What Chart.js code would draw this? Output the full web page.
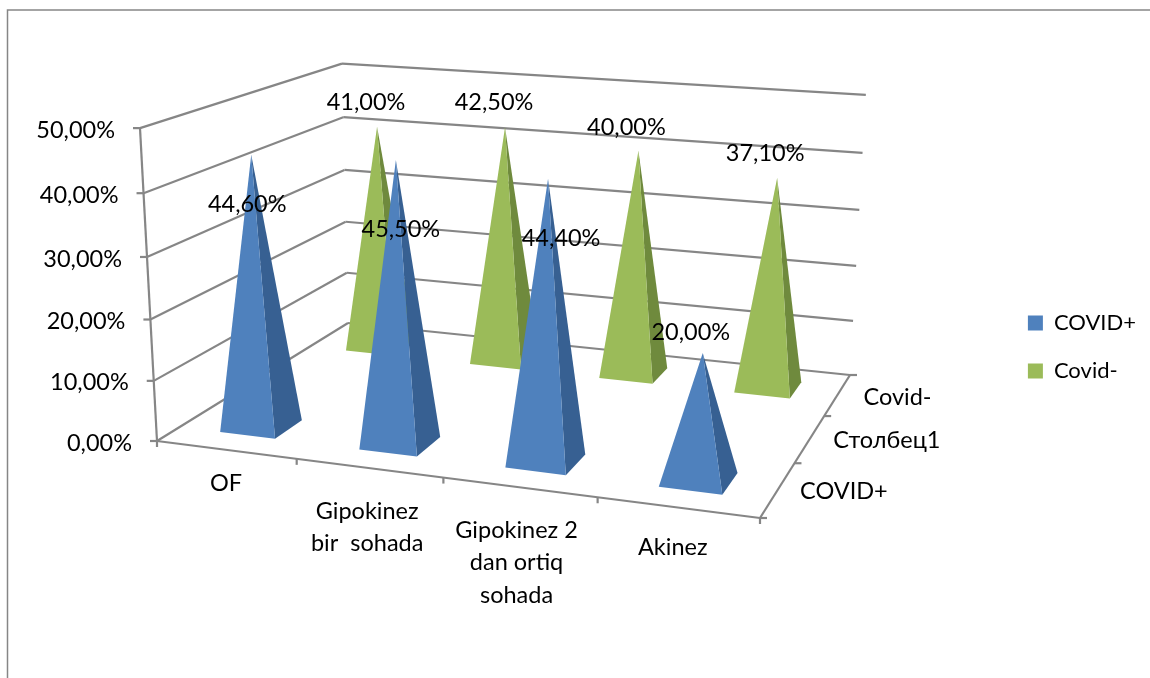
<!DOCTYPE html>
<html>
<head>
<meta charset="utf-8">
<title>COVID pyramids</title>
<script src="https://cdn.jsdelivr.net/npm/chart.js@4"></script>
<style>
  html, body { margin: 0; padding: 0; background: #fff; }
  canvas { display: block; }
</style>
</head>
<body>
<canvas id="chart" width="1150" height="678"></canvas>
<script>
const categories = ['OF', ['Gipokinez', 'bir  sohada'], ['Gipokinez 2', 'dan ortiq', 'sohada'], 'Akinez'];
const depthLabels = ['COVID+', 'Столбец1', 'Covid-'];
const covidPlus = [44.6, 45.5, 44.4, 20];
const covidMinus = [41, 42.5, 40, 37.1];
const yTicks = { min: 0, max: 50, step: 10 };

const AXIS_COLOR = '#868686';
const FONT = 'Lato, sans-serif';
const FONT_SIZE = 23.5;

// floor of the box in canvas pixels, then the vertical vanishing point and its weight
const floor = { fl: [157, 441], fr: [760, 518], br: [850, 375], bl: [348, 323] };
const vanish = { x: 495, y: 6660, weight: -0.0479 };

// homography from the unit square onto the floor quad
function floorMatrix({ fl, fr, br, bl }) {
    const dx1 = fr[0] - br[0], dx2 = bl[0] - br[0], sx = fl[0] - fr[0] + br[0] - bl[0];
    const dy1 = fr[1] - br[1], dy2 = bl[1] - br[1], sy = fl[1] - fr[1] + br[1] - bl[1];
    const den = dx1 * dy2 - dx2 * dy1;
    const g = (sx * dy2 - dx2 * sy) / den;
    const h = (dx1 * sy - sx * dy1) / den;
    return {
        a: fr[0] - fl[0] + g * fr[0], b: bl[0] - fl[0] + h * bl[0], c: fl[0],
        d: fr[1] - fl[1] + g * fr[1], e: bl[1] - fl[1] + h * bl[1], f: fl[1],
        g, h
    };
}
const M = floorMatrix(floor);

// u along the categories, v into the depth, w up: all 0..1
function project(u, v, w) {
    const k = w * vanish.weight;
    const W = M.g * u + M.h * v + 1 + k;
    return [
        (M.a * u + M.b * v + M.c + k * vanish.x) / W,
        (M.d * u + M.e * v + M.f + k * vanish.y) / W
    ];
}

function decimalOf(scale, value) {
    return scale.getDecimalForPixel(scale.getPixelForValue(value));
}

function polygon(ctx, points, fill) {
    ctx.beginPath();
    points.forEach((p, i) => i ? ctx.lineTo(p[0], p[1]) : ctx.moveTo(p[0], p[1]));
    ctx.closePath();
    ctx.fillStyle = fill;
    ctx.fill();
}

const BASE_U = 0.05;
const BASE_V = 0.067;

class PyramidController extends Chart.BarController {
    static id = 'pyramid';

    draw() {
        const ctx = this.chart.ctx;
        const meta = this.getMeta();
        const ds = this.getDataset();
        const depthScale = this.chart.scales.depth;
        const v = decimalOf(depthScale, depthLabels.indexOf(ds.label));
        ds.data.forEach((value, i) => {
            const u = decimalOf(meta.iScale, i);
            const w = decimalOf(meta.vScale, value);
            const tip = project(u, v, w);
            const frontLeft = project(u - BASE_U, v - BASE_V, 0);
            const frontRight = project(u + BASE_U, v - BASE_V, 0);
            const backRight = project(u + BASE_U, v + BASE_V, 0);
            polygon(ctx, [frontRight, backRight, tip], ds.sideColor);
            polygon(ctx, [frontLeft, frontRight, tip], ds.backgroundColor);
        });
    }
}
Chart.register(PyramidController);

const fmt = v => v.toFixed(2).replace('.', ',') + '%';

function line(ctx, a, b) {
    ctx.beginPath();
    ctx.moveTo(a[0], a[1]);
    ctx.lineTo(b[0], b[1]);
    ctx.stroke();
}

function textLines(ctx, lines, x, y, lineHeight) {
    [].concat(lines).forEach((t, i) => ctx.fillText(t, x, y + i * lineHeight));
}

// value label nudges from each pyramid tip, per dataset
const labelNudge = [
    [[-4, 50], [5, 69], [13, 60], [-12, -21]],
    [[-11, -24], [-11, -25], [-12, -23], [-12, -24]]
];
const categoryNudge = [[0, 34], [-2, 43], [-3, 43], [-5, 40]];
const depthNudge = [[66, 2], [77, 2], [60, 3]];

const box3d = {
    id: 'box3d',
    beforeDraw(chart) {
        const ctx = chart.ctx;
        ctx.save();
        ctx.strokeStyle = AXIS_COLOR;
        ctx.lineWidth = 1.5;
        ctx.beginPath();
        ctx.moveTo(7.5, 678);
        ctx.lineTo(7.5, 10);
        ctx.lineTo(1150, 10);
        ctx.stroke();
        ctx.restore();
    },
    beforeDatasetsDraw(chart) {
        const ctx = chart.ctx;
        const { x, y, depth } = chart.scales;
        ctx.save();
        ctx.strokeStyle = AXIS_COLOR;
        ctx.lineWidth = 2.2;
        y.ticks.forEach(t => {
            const w = decimalOf(y, t.value);
            const front = project(0, 0, w);
            const corner = project(0, 1, w);
            const right = project(1, 1, w);
            line(ctx, [front[0] - 7, front[1]], front);
            line(ctx, front, corner);
            line(ctx, corner, right);
        });
        line(ctx, project(0, 0, 0), project(0, 0, 1));
        line(ctx, project(0, 0, 0), project(1, 0, 0));
        line(ctx, project(1, 0, 0), project(1, 1, 0));
        for (let i = 0; i <= x.getLabels().length; i++) {
            const p = project(i / x.getLabels().length, 0, 0);
            line(ctx, p, [p[0], p[1] + 6]);
        }
        for (let i = 0; i <= depth.getLabels().length; i++) {
            const p = project(1, i / depth.getLabels().length, 0);
            line(ctx, p, [p[0] + 7, p[1]]);
        }
        ctx.restore();
    },
    afterDatasetsDraw(chart) {
        const ctx = chart.ctx;
        const { x, y, depth } = chart.scales;
        ctx.save();
        ctx.fillStyle = '#000';
        ctx.font = FONT_SIZE + 'px ' + FONT;
        ctx.textBaseline = 'middle';

        ctx.textAlign = 'right';
        y.ticks.forEach(t => {
            const p = project(0, 0, decimalOf(y, t.value));
            ctx.fillText(fmt(t.value), p[0] - 25, p[1] + 2);
        });

        ctx.textAlign = 'center';
        x.getLabels().forEach((label, i) => {
            const p = project(decimalOf(x, i), 0, 0);
            textLines(ctx, label, p[0] + categoryNudge[i][0], p[1] + categoryNudge[i][1], 32.5);
        });
        depth.getLabels().forEach((label, i) => {
            const p = project(1, decimalOf(depth, i), 0);
            ctx.fillText(label, p[0] + depthNudge[i][0], p[1] + depthNudge[i][1]);
        });

        chart.data.datasets.forEach((ds, di) => {
            const v = decimalOf(depth, depthLabels.indexOf(ds.label));
            ds.data.forEach((value, i) => {
                const tip = project(decimalOf(x, i), v, decimalOf(y, value));
                ctx.fillText(fmt(value), tip[0] + labelNudge[di][i][0], tip[1] + labelNudge[di][i][1]);
            });
        });
        ctx.restore();
    }
};

new Chart(document.getElementById('chart'), {
    type: 'pyramid',
    data: {
        labels: categories,
        datasets: [
            { label: 'COVID+', data: covidPlus, backgroundColor: '#4F81BD', sideColor: '#376092', borderWidth: 0 },
            { label: 'Covid-', data: covidMinus, backgroundColor: '#9BBB59', sideColor: '#6F8A3D', borderWidth: 0 }
        ]
    },
    options: {
        responsive: false,
        animation: false,
        layout: { padding: { top: 16, right: 4 } },
        scales: {
            x: { type: 'category', offset: true, display: false },
            y: { type: 'linear', min: yTicks.min, max: yTicks.max, ticks: { stepSize: yTicks.step }, display: false },
            depth: { type: 'category', axis: 'x', labels: depthLabels, offset: true, display: false }
        },
        plugins: {
            tooltip: { enabled: false },
            legend: {
                position: 'right',
                labels: {
                    boxWidth: 15,
                    boxHeight: 15,
                    padding: 26,
                    color: '#000',
                    font: { family: FONT, size: 22 }
                }
            }
        }
    },
    plugins: [box3d]
});
</script>
</body>
</html>
